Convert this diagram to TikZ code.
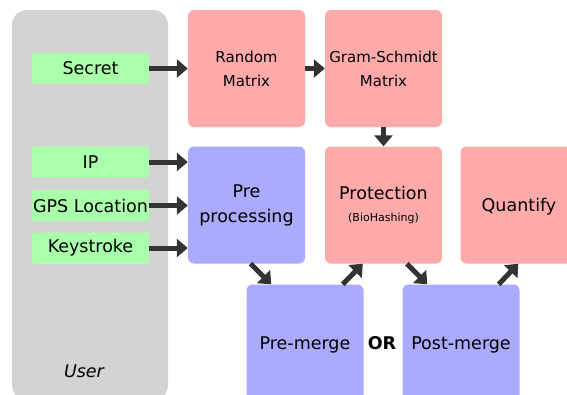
\documentclass[tikz,border=0pt]{standalone}
\usepackage{fontspec}
\setmainfont{DejaVu Sans}
\usetikzlibrary{arrows.meta}
\definecolor{usergray}{HTML}{D3D3D3}
\definecolor{inputgreen}{HTML}{AAFFAA}
\definecolor{protred}{HTML}{FFAAAA}
\definecolor{procblue}{HTML}{AAAAFF}
\definecolor{flowgray}{HTML}{333333}
\tikzset{
    inbox/.style={
        fill=inputgreen, rounded corners=2pt,
        minimum width=117pt, minimum height=31pt, inner sep=0pt,
        font=\fontsize{17.5}{24}\selectfont
    },
    redbox/.style={
        fill=protred, rounded corners=6pt,
        minimum width=117pt, minimum height=117pt, inner sep=0pt,
        align=center, font=\fontsize{17.5}{25}\selectfont
    },
    bluebox/.style={
        redbox, fill=procblue
    },
    flow/.style={
        draw=flowgray, line width=5pt,
        -{Triangle[length=11pt,width=18pt]}
    }
}

\begin{document}
\begin{tikzpicture}[x=1pt,y=-1pt]

		\path[clip,use as bounding box] (0,0) rectangle (567,394);

		% User side
		\node [fill=usergray, rounded corners=15pt, minimum width=156pt, minimum height=390pt] (user) at (90,205) {};
		\node [font=\fontsize{17.5}{24}\selectfont\itshape] (userlabel) at (84,371) {User};

		% Inputs
		\node [inbox] (secret) at (90.5,68.5) {Secret};
		\node [inbox] (ip) at (90.5,162) {IP};
		\node [inbox] (gps) at (90.5,205.5) {GPS Location};
		\node [inbox] (key) at (90.5,248) {Keystroke};

		% Matrices
		\node [redbox, font=\fontsize{15}{24}\selectfont] (random) at (246.5,68.5) {Random\\Matrix};
		\node [redbox, font=\fontsize{15}{24}\selectfont] (gram) at (383.5,68.5) {Gram-Schmidt\\Matrix};

		% Processing
		\node [bluebox] (pre) at (246.5,205) {Pre\\processing};
		\node [redbox] (protection) at (383.5,205) {Protection\\[-3pt]{\fontsize{11}{13}\selectfont (BioHashing)}};
		\node [redbox, text depth=0pt] (quantify) at (519,205) {Quantify};

		% Merge variants
		\node [bluebox, text depth=0pt] (premerge) at (305,343) {Pre-merge};
		\node [bluebox, text depth=0pt] (postmerge) at (461,343) {Post-merge};
		\node [font=\fontsize{17.5}{24}\selectfont\bfseries] (or) at (382,343) {OR};

		% Arrows
		\draw [flow] (secret.east) -- (random.west);
		\draw [flow] (ip.east) -- (ip.east -| pre.west);
		\draw [flow] (gps.east) -- (gps.east -| pre.west);
		\draw [flow] (key.east) -- (key.east -| pre.west);
		\draw [flow] (random.east) -- (gram.west);
		\draw [flow] (gram.south) -- (protection.north);
		\draw [flow] ([xshift=4pt]pre.south) -- ([xshift=25pt]premerge.north west);
		\draw [flow] ([xshift=-21pt]premerge.north east) -- ([xshift=38pt]protection.south west);
		\draw [flow] ([xshift=82pt]protection.south west) -- ([xshift=25pt]postmerge.north west);
		\draw [flow] ([xshift=-21pt]postmerge.north east) -- ([xshift=58pt]quantify.south west);

\end{tikzpicture}
\end{document}
